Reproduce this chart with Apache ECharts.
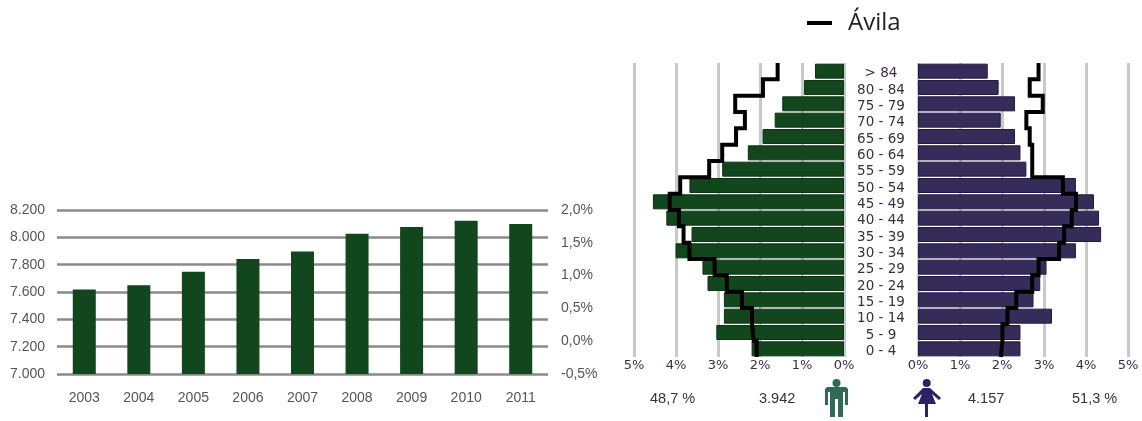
<!DOCTYPE html>
<html><head><meta charset="utf-8">
<style>html,body{margin:0;padding:0;background:#fff}#c{width:1142px;height:421px}</style>
<script src="https://cdn.jsdelivr.net/npm/echarts@6/dist/echarts.min.js"></script>
</head><body><div id="c"></div>
<script>
const years = ['2003','2004','2005','2006','2007','2008','2009','2010','2011'];
const population = [7618,7650,7748,7841,7897,8026,8075,8122,8097];
const ageGroups = ['> 84','80 - 84','75 - 79','70 - 74','65 - 69','60 - 64','55 - 59','50 - 54','45 - 49','40 - 44','35 - 39','30 - 34','25 - 29','20 - 24','15 - 19','10 - 14','5 - 9','0 - 4'];
const maleBars = [0.69,0.95,1.47,1.65,1.94,2.29,2.90,3.68,4.55,4.23,3.63,4.01,3.37,3.25,2.86,2.86,3.04,2.20];
const femaleBars = [1.66,1.92,2.31,1.97,2.31,2.44,2.58,3.76,4.19,4.31,4.36,3.76,3.06,2.91,2.75,3.19,2.44,2.44];
const maleLine = [1.58,1.93,2.59,2.36,2.57,2.90,3.21,3.90,4.15,3.93,3.82,3.68,3.08,2.79,2.43,2.19,2.15,2.08];
const femaleLine = [2.87,2.66,2.97,2.58,2.66,2.72,2.72,3.45,3.76,3.66,3.48,3.36,2.87,2.72,2.34,2.13,2.01,1.97];
const legendName = 'Ávila';
const summary = {malePct:'48,7 %',maleCount:'3.942',femaleCount:'4.157',femalePct:'51,3 %'};

const GREEN='#12461d', PURPLE='#352c5a', INK='#3c2c48', GREY='#555';
const steps = a => a.flatMap((v,i)=>[[v,i],[v,i+1]]);
const chart = echarts.init(document.getElementById('c'),null,{renderer:'canvas'});
const txt=(x,t)=>({type:'text',left:x,top:391,style:{text:t,font:'14.5px "Liberation Sans"',fill:'#333'}});
const poly=(pts,fill)=>({type:'polygon',shape:{points:pts},style:{fill}});
const circ=(cx,cy,r,fill)=>({type:'circle',shape:{cx,cy,r},style:{fill}});
const MC='#2f6a55', WC='#2c2163';
chart.setOption({
 animation:false,
 legend:{data:[{name:legendName,icon:'rect'}],left:802,top:6,itemWidth:25,itemHeight:4,itemGap:16,
   textStyle:{fontFamily:'Open Sans',fontSize:24,color:'#222',padding:[0,0,0,11]}},
 grid:[
  {left:57,top:210,width:491,height:164},
  {left:634,top:63,width:210,height:294},
  {left:918,top:63,width:210,height:294}
 ],
 xAxis:[
  {gridIndex:0,type:'category',data:years,axisLine:{show:false},axisTick:{show:false},
   axisLabel:{margin:17,color:GREY,fontFamily:'Liberation Sans',fontSize:14}},
  {gridIndex:1,type:'value',inverse:true,min:0,max:5,interval:1,axisLine:{show:false},axisTick:{show:false},
   splitLine:{lineStyle:{color:'#c9c9c9',width:3}},
   axisLabel:{margin:2,color:INK,fontFamily:'DejaVu Sans',fontSize:13,formatter:'{value}%'}},
  {gridIndex:2,type:'value',min:0,max:5,interval:1,axisLine:{show:false},axisTick:{show:false},
   splitLine:{lineStyle:{color:'#c9c9c9',width:3}},
   axisLabel:{margin:2,color:INK,fontFamily:'DejaVu Sans',fontSize:13,formatter:'{value}%'}},
 ],
 yAxis:[
  {gridIndex:0,type:'value',min:7000,max:8200,interval:200,axisLine:{show:false},axisTick:{show:false},
   splitLine:{lineStyle:{color:'#8a8a8a',width:2.5}},
   axisLabel:{margin:12,color:GREY,fontFamily:'Liberation Sans',fontSize:14,formatter:v=>String(v).replace(/(\d)(\d{3})$/,'$1.$2')}},
  {gridIndex:0,type:'value',position:'right',min:-0.5,max:2,interval:0.5,axisLine:{show:false},axisTick:{show:false},splitLine:{show:false},
   axisLabel:{margin:13,color:GREY,fontFamily:'Liberation Sans',fontSize:14,formatter:v=>v.toFixed(1).replace('.',',')+'%'}},
  {gridIndex:1,type:'category',inverse:true,position:'right',data:ageGroups,axisLine:{show:false},axisTick:{show:false},
   axisLabel:{interval:0,margin:37,align:'center',verticalAlign:'middle',padding:[0,0,0,0],formatter:v=>'{a|'+v+'}',
     rich:{a:{padding:[5,0,0,0],color:INK,fontFamily:'DejaVu Sans',fontSize:13.5}}}},
  {gridIndex:2,type:'category',inverse:true,data:ageGroups,axisLine:{show:false},axisTick:{show:false},axisLabel:{show:false}},
  {gridIndex:1,type:'value',inverse:true,min:0,max:18,show:false},
  {gridIndex:2,type:'value',inverse:true,min:0,max:18,show:false},
 ],
 series:[
  {type:'bar',xAxisIndex:0,yAxisIndex:0,data:population,barWidth:23,itemStyle:{color:GREEN}},
  {type:'bar',xAxisIndex:1,yAxisIndex:2,data:maleBars,barWidth:15,itemStyle:{color:GREEN,borderColor:'#0c3315',borderWidth:1}},
  {type:'bar',xAxisIndex:2,yAxisIndex:3,data:femaleBars,barWidth:15,itemStyle:{color:PURPLE,borderColor:'#201a45',borderWidth:1}},
  {type:'line',name:legendName,xAxisIndex:1,yAxisIndex:4,data:steps(maleLine),symbol:'none',z:5,lineStyle:{color:'#000',width:4,join:'miter'},itemStyle:{color:'#000'}},
  {type:'line',name:legendName,xAxisIndex:2,yAxisIndex:5,data:steps(femaleLine),symbol:'none',z:5,lineStyle:{color:'#000',width:4,join:'miter'},itemStyle:{color:'#000'}},
 ],
 graphic:[
  txt(650,summary.malePct),txt(759,summary.maleCount),txt(968,summary.femaleCount),txt(1072,summary.femalePct),
  circ(836.5,383,4,MC),
  poly([[827,387],[846,387],[848,389],[848,405],[845,405],[845,392],[843,392],[843,417],[838,417],[838,399],[835,399],[835,417],[830,417],[830,392],[828,392],[828,405],[825,405],[825,389]],MC),
  circ(926.7,383,4,WC),
  poly([[923,388],[930,388],[941,398],[939,400],[932,394],[936,404],[928,404],[928,417],[925,417],[925,404],[918,404],[922,394],[915,400],[913,398]],WC),
 ]
});
</script></body></html>
